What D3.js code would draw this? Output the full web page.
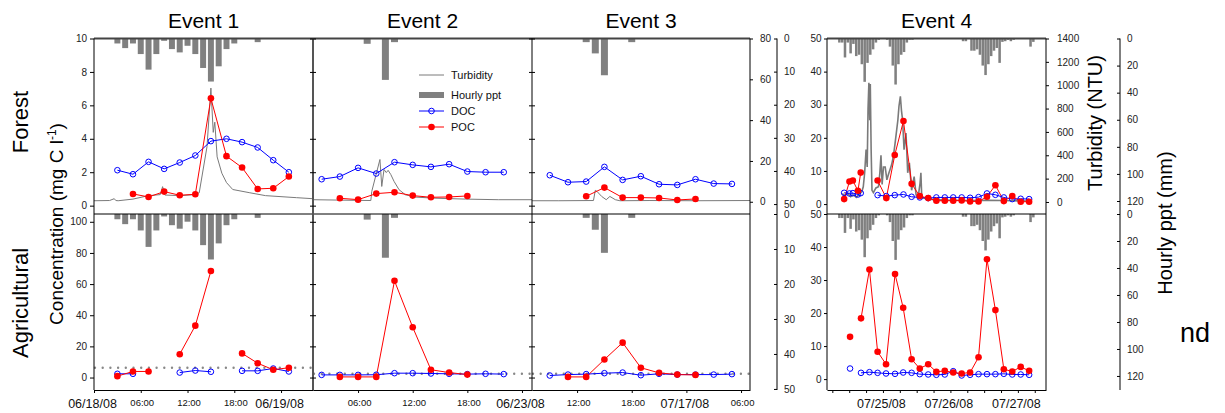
<!DOCTYPE html>
<html>
<head>
<meta charset="utf-8">
<script src="https://cdn.jsdelivr.net/npm/d3@7"></script>
<style>
  body { margin: 0; background: #fff; }
  text { font-family: "Liberation Sans", Arial, sans-serif; }
</style>
</head>
<body>
<svg id="chart" width="1225" height="413"></svg>
<script>
// ---------- data (hours are counted from midnight of the event's first day) ----------
const eventNames = ["Event 1", "Event 2", "Event 3", "Event 4"];
const eventDays = ["2008-06-18", "2008-06-22", "2008-07-16", "2008-07-24"];
const eventSpans = [[0, 28.1], [1.05, 25.1], [7.05, 30.98], [4.1, 82]];
const seriesNames = ["Turbidity", "Hourly ppt", "DOC", "POC"];
const rowNames = ["Forest", "Agricultural"];
const detectionLimit = [6.3, 2.4, 2.4];

// Event 1
const ev1SampleHours = [3, 5, 7, 9, 11, 13, 15, 17, 19, 21, 23, 25];
const ev1ForestDOC = [2.12, 1.88, 2.62, 2.2, 2.58, 3.0, 3.86, 4.0, 3.8, 3.48, 2.72, 2.0];
const ev1ForestPOC = [null, 0.7, 0.52, 0.84, 0.62, 0.68, 6.42, 2.96, 2.28, 1.0, 1.04, 1.74];
const ev1AgDOC = [2.4, 2.4, null, null, 3.2, 4.5, 3.7, null, 4.3, 4.3, 5.8, 3.9];
const ev1AgPOC = [0.9, 3.9, 3.9, null, 15.0, 33.3, 68.4, null, 15.5, 9.2, 5.0, 6.3];
const ev1PptHours = [3, 4, 5, 6, 7, 8, 9, 10, 11, 12, 13, 14, 15, 16, 17, 18, 21];
const ev1Ppt = [1.5, 2.9, 1.5, 4.7, 9.4, 4.7, 0.7, 3.2, 4.2, 2.2, 4.7, 8.9, 13.0, 8.4, 3.2, 1.5, 1.1];
const ev1TurbHours = [0, 2, 2.6, 2.8, 3.1, 5, 7, 8.5, 8.8, 9.1, 11, 13, 13.5, 14.5, 15.0, 15.3, 15.5, 15.8, 16.4, 17, 17.8, 20, 22, 26, 28.1];
const ev1Turb = [0.5, 0.6, 1.5, 0.6, 0.5, 1.3, 3.0, 3.5, 7.4, 3.3, 3.0, 3.5, 4.4, 27, 55.7, 34, 39, 22, 14, 9.4, 6, 4.4, 3, 2, 1.5];

// Event 2
const ev2SampleHours = [2, 4, 6, 8, 10, 12, 14, 16, 18, 20, 22];
const ev2ForestDOC = [1.58, 1.74, 2.26, 1.92, 2.6, 2.44, 2.32, 2.48, 2.04, 2.0, 2.0];
const ev2ForestPOC = [null, 0.44, 0.36, 0.72, 0.80, 0.6, 0.5, 0.52, 0.58, null, null];
const ev2AgDOC = [1.7, 1.7, 1.7, 1.8, 2.8, 2.8, 2.6, 2.4, 2.2, 2.4, 2.2];
const ev2AgPOC = [null, 0.4, 0.4, 0.4, 62.1, 32.3, 5.0, 3.2, 1.9, null, null];
const ev2PptHours = [7, 9, 10];
const ev2Ppt = [1.6, 12.5, 1.1];
const ev2TurbHours = [1.05, 4, 7.4, 7.5, 8.4, 8.6, 8.85, 9.1, 9.3, 9.6, 9.95, 10.5, 11.2, 12.3, 14.1, 17.8, 21.4, 25.1];
const ev2Turb = [1.0, 0.8, 0.6, 5, 20.7, 7.5, 15.8, 14.3, 15.4, 13.3, 10, 5.9, 3.4, 2.3, 1.8, 1.3, 1.0, 1.0];

// Event 3
const ev3SampleHours = [9, 11, 13, 15, 17, 19, 21, 23, 25, 27, 29];
const ev3ForestDOC = [1.82, 1.40, 1.44, 2.32, 1.54, 1.76, 1.28, 1.24, 1.58, 1.32, 1.30];
const ev3ForestPOC = [null, null, 0.56, 1.08, 0.48, 0.48, 0.46, 0.34, 0.40, null, null];
const ev3AgDOC = [1.3, 1.9, 2.2, 2.8, 3.2, 1.5, 2.4, 1.9, 1.9, 1.9, 2.2];
const ev3AgPOC = [null, 0.4, 0.4, 11.6, 22.4, 6.3, 3.0, 1.9, 1.7, null, null];
const ev3PptHours = [13, 14, 15, 18];
const ev3Ppt = [1.1, 4.5, 11.1, 1.1];
const ev3TurbHours = [7.05, 10, 13.8, 14.0, 14.2, 14.7, 15.2, 15.6, 16.2, 16.7, 20, 25, 30.98];
const ev3Turb = [0.5, 0.5, 0.6, 5.6, 5.0, 2.6, 1.0, 2.6, 1.0, 0.5, 0.6, 0.5, 0.6];

// Event 4
const ev4ForestHours = [10.2, 12.1, 13.3, 15.1, 16.1, 19, 22.1, 25.2, 28.2, 31.3, 34.2, 37.1, 40.1, 43, 46, 49, 52, 55, 58, 61, 64, 67, 70, 73, 76];
const ev4ForestDOC = [3.4, 3.2, 3.3, 2.9, 3.3, null, 2.7, 2.4, 2.7, 2.9, 2.2, 2.0, 1.8, 2.0, 2.0, 2.0, 2.0, 1.9, 2.1, 3.2, 2.8, 2.0, 1.5, 1.6, 1.5];
const ev4ForestPOC = [1.5, 6.8, 7.1, 4.0, 9.5, null, 7.1, 1.8, 14.8, 25.1, 6.1, 2.4, 1.8, 1.0, 1.0, 1.0, 1.1, 0.8, 0.8, 2.2, 5.7, 0.9, 2.4, 0.7, 0.7];
const ev4AgHours = [12.3, 14.2, 16.2, 19.2, 22.1, 25.1, 28.3, 31.2, 34.2, 37.1, 40.1, 43, 46, 49, 52, 55, 58, 61, 64, 67, 70, 73, 76];
const ev4AgDOC = [3.2, null, 1.9, 2.1, 1.9, 1.7, 1.6, 2.0, 1.9, 1.5, 1.4, 1.3, 1.4, 2.4, 1.1, 1.3, 1.5, 1.5, 1.5, 1.6, 1.4, 1.4, 1.3];
const ev4AgPOC = [12.8, null, 18.4, 33.2, 8.3, 4.5, 31.8, 21.6, 6.0, 3.2, 4.5, 2.2, 2.5, 2.0, 1.7, 2.0, 6.6, 36.3, 20.9, 3.0, 2.3, 3.7, 2.5];
const ev4PptHours = [8.5, 9.5, 10.5, 11.5, 12.5, 13.5, 14.5, 15.5, 16.5, 17.5, 18.5, 19.5, 20.5, 21.5, 22.5,
  25.5, 26.5, 27.5, 28.5, 29.5, 30.5, 31.5, 32.5, 33.5, 34.5,
  52.5, 53.5, 55.5, 56.5, 57.5, 58.5, 59.5, 60.5, 61.5, 62.5, 63.5, 64.5, 65.5, 66.5, 67.5, 68.5, 69.5, 70.5, 76.5, 77.5];
const ev4Ppt = [3, 3, 14, 3, 11, 4, 13, 12, 19, 32, 18, 12, 8, 3, 1,
  1, 6, 20, 34, 19, 12, 10, 3, 1, 1,
  2, 2, 9, 9, 8, 12, 20, 27, 19, 13, 9, 7, 18, 2.5, 2, 1, 2, 1, 6, 2.5];
const ev4TurbHours = [9.5, 10.5, 11.5, 12.5, 13.5, 14.5, 15.5, 16.5, 17.0, 17.5, 18.0, 18.4, 18.7, 19.0, 19.3, 19.5, 19.8, 20.1,
  20.6, 21.5, 22.4, 22.9, 23.3, 23.7, 24.2, 24.8, 25.4, 26.0, 26.5, 27.1, 27.7, 28.3, 28.9, 29.3, 29.7, 30.2, 30.6, 31.0,
  31.5, 32.2, 32.8, 33.4, 34.2, 35.1, 35.8, 36.5, 37.2, 37.5, 37.8, 39, 42, 48, 55, 62, 70, 77];
const ev4Turb = [70, 55, 75, 45, 60, 40, 65, 90, 130, 250, 450, 300, 800, 1020, 700, 1010, 450, 100,
  80, 120, 130, 250, 400, 150, 300, 300, 190, 240, 275, 320, 390, 500, 620, 700, 820, 905, 780, 700,
  447, 590, 250, 335, 100, 217, 60, 40, 160, 250, 40, 30, 20, 15, 12, 15, 10, 8];

const events = [
  {forestH: ev1SampleHours, forestDOC: ev1ForestDOC, forestPOC: ev1ForestPOC, agH: ev1SampleHours, agDOC: ev1AgDOC, agPOC: ev1AgPOC,
   pptH: ev1PptHours, ppt: ev1Ppt, turbH: ev1TurbHours, turb: ev1Turb},
  {forestH: ev2SampleHours, forestDOC: ev2ForestDOC, forestPOC: ev2ForestPOC, agH: ev2SampleHours, agDOC: ev2AgDOC, agPOC: ev2AgPOC,
   pptH: ev2PptHours, ppt: ev2Ppt, turbH: ev2TurbHours, turb: ev2Turb},
  {forestH: ev3SampleHours, forestDOC: ev3ForestDOC, forestPOC: ev3ForestPOC, agH: ev3SampleHours, agDOC: ev3AgDOC, agPOC: ev3AgPOC,
   pptH: ev3PptHours, ppt: ev3Ppt, turbH: ev3TurbHours, turb: ev3Turb},
  {forestH: ev4ForestHours, forestDOC: ev4ForestDOC, forestPOC: ev4ForestPOC, agH: ev4AgHours, agDOC: ev4AgDOC, agPOC: ev4AgPOC,
   pptH: ev4PptHours, ppt: ev4Ppt, turbH: ev4TurbHours, turb: ev4Turb}
];

// ---------- layout ----------
const svg = d3.select("#chart");
const font = "'Liberation Sans', Arial, sans-serif";
const docColor = "#0000ff", pocColor = "#ff0000", pptColor = "#808080", turbColor = "#7a7a7a";

const panelX = [[94, 313], [313, 532], [532, 750], [827, 1046]];
const yTop = 38.5, yMid = 214, yBot = 390;

// index 0 = events 1-3, index 1 = event 4
const yForest = [d3.scaleLinear().domain([-0.5, 10]).range([yMid, yTop]),
                 d3.scaleLinear().domain([-3, 50]).range([yMid, yTop])];
const yAg = [d3.scaleLinear().domain([-8, 105]).range([yBot, yMid]),
             d3.scaleLinear().domain([-3.3, 50]).range([yBot, yMid])];
const yTurb = [d3.scaleLinear().domain([-6, 80]).range([yMid, yTop]),
               d3.scaleLinear().domain([-103, 1400]).range([yMid, yTop])];
const yPptTop = [d3.scaleLinear().domain([0, 53]).range([yTop, yMid]),
                 d3.scaleLinear().domain([0, 129.6]).range([yTop, yMid])];
const yPptBot = [d3.scaleLinear().domain([0, 50.3]).range([yMid, yBot]),
                 d3.scaleLinear().domain([0, 130.4]).range([yMid, yBot])];

const parseDay = d3.timeParse("%Y-%m-%d");
function at(i, h) { return d3.timeMinute.offset(parseDay(eventDays[i]), Math.round(h * 60)); }
function series(i, hours, vals) { return hours.map((h, k) => ({t: at(i, h), v: vals[k]})); }

const xScales = eventSpans.map((s, i) =>
  d3.scaleTime().domain([at(i, s[0]), at(i, s[1])]).range(panelX[i]));

const plot = svg.append("g");

events.forEach((ev, i) => {
  const x = xScales[i];
  const k = i < 3 ? 0 : 1;
  const barW = i < 3 ? 0.76 : 0.9;
  const g = plot.append("g");

  // precipitation bars hanging from the top of each row
  [yPptTop[k], yPptBot[k]].forEach(yp => {
    g.append("g").selectAll("rect")
      .data(ev.pptH.map((h, j) => ({h, v: ev.ppt[j]})))
      .join("rect")
      .attr("x", d => x(at(i, d.h - barW / 2)))
      .attr("width", d => x(at(i, d.h + barW / 2)) - x(at(i, d.h - barW / 2)))
      .attr("y", yp(0))
      .attr("height", d => yp(d.v) - yp(0))
      .attr("fill", pptColor);
  });

  // turbidity (forest row)
  g.append("path")
    .datum(series(i, ev.turbH, ev.turb))
    .attr("fill", "none")
    .attr("stroke", turbColor)
    .attr("stroke-width", i < 3 ? 1 : 1.6)
    .attr("d", d3.line().x(d => x(d.t)).y(d => yTurb[k](d.v)));

  // detection limit line (agricultural, events 1-3)
  if (i < 3) {
    g.append("line")
      .attr("x1", panelX[i][0] + 1).attr("x2", panelX[i][1])
      .attr("y1", yAg[0](detectionLimit[i])).attr("y2", yAg[0](detectionLimit[i]))
      .attr("stroke", "#888").attr("stroke-width", 2.4)
      .attr("stroke-linecap", "round").attr("stroke-dasharray", "0 7.7");
  }

  const rows = [
    {y: yForest[k], h: ev.forestH, doc: ev.forestDOC, poc: ev.forestPOC},
    {y: yAg[k], h: ev.agH, doc: ev.agDOC, poc: ev.agPOC}
  ];
  rows.forEach(r => {
    const line = d3.line().defined(d => d.v != null).x(d => x(d.t)).y(d => r.y(d.v));
    const doc = series(i, r.h, r.doc), poc = series(i, r.h, r.poc);

    g.append("path").datum(doc).attr("fill", "none").attr("stroke", docColor).attr("stroke-width", 1).attr("d", line);
    g.append("path").datum(poc).attr("fill", "none").attr("stroke", pocColor).attr("stroke-width", 1).attr("d", line);

    g.append("g").selectAll("circle").data(doc.filter(d => d.v != null)).join("circle")
      .attr("cx", d => x(d.t)).attr("cy", d => r.y(d.v)).attr("r", 2.8)
      .attr("fill", "none").attr("stroke", docColor).attr("stroke-width", 1);
    g.append("g").selectAll("circle").data(poc.filter(d => d.v != null)).join("circle")
      .attr("cx", d => x(d.t)).attr("cy", d => r.y(d.v)).attr("r", 3.3)
      .attr("fill", pocColor);
  });
});

// ---------- frames ----------
const frame = svg.append("g").attr("stroke", "#000").attr("fill", "none");
[[94, 750], [827, 1046]].forEach(([a, b]) => {
  frame.append("line").attr("x1", a).attr("x2", b).attr("y1", yTop).attr("y2", yTop).attr("stroke", "#444").attr("stroke-width", 2);
  frame.append("line").attr("x1", a).attr("x2", b).attr("y1", yMid).attr("y2", yMid);
});
[94, 532, 750, 827, 1046].forEach(xv =>
  frame.append("line").attr("x1", xv).attr("x2", xv).attr("y1", yTop).attr("y2", yBot));
frame.append("line").attr("x1", 313).attr("x2", 313).attr("y1", yTop).attr("y2", yBot).attr("stroke", "#555").attr("stroke-width", 2);
[777, 1120].forEach(xv =>
  frame.append("line").attr("x1", xv).attr("x2", xv).attr("y1", yTop).attr("y2", yBot));

// ---------- axes ----------
function tidy(sel, size) {
  sel.select(".domain").remove();
  sel.attr("font-family", font).attr("font-size", size || 10);
  sel.selectAll("text").attr("fill", "#222");
  sel.selectAll("line").attr("stroke", "#000");
}
const forestTicks = [[0, 2, 4, 6, 8, 10], d3.range(0, 51, 10)];
const agTicks = [d3.range(0, 101, 20), d3.range(0, 51, 10)];

// left axes
svg.append("g").attr("transform", "translate(94,0)")
  .call(d3.axisLeft(yForest[0]).tickValues(forestTicks[0]).tickSize(4).tickPadding(3)).call(tidy);
svg.append("g").attr("transform", "translate(94,0)")
  .call(d3.axisLeft(yAg[0]).tickValues(agTicks[0]).tickSize(4).tickPadding(3)).call(tidy);
svg.append("g").attr("transform", "translate(827,0)")
  .call(d3.axisLeft(yForest[1]).tickValues(forestTicks[1]).tickSize(3).tickPadding(2.5)).call(tidy);
svg.append("g").attr("transform", "translate(827,0)")
  .call(d3.axisLeft(yAg[1]).tickValues(agTicks[1]).tickSize(3).tickPadding(2.5)).call(tidy);

// ticks on the inner dividers
[313, 532].forEach(xv => {
  [d3.axisLeft, d3.axisRight].forEach(ax => {
    svg.append("g").attr("transform", `translate(${xv},0)`)
      .call(ax(yForest[0]).tickValues(forestTicks[0]).tickSize(3).tickFormat("")).call(tidy);
    svg.append("g").attr("transform", `translate(${xv},0)`)
      .call(ax(yAg[0]).tickValues(agTicks[0]).tickSize(3).tickFormat("")).call(tidy);
  });
});

// turbidity axes
svg.append("g").attr("transform", "translate(750,0)")
  .call(d3.axisRight(yTurb[0]).tickValues(d3.range(0, 81, 20)).tickSize(3).tickPadding(7)).call(tidy);
svg.append("g").attr("transform", "translate(1046,0)")
  .call(d3.axisRight(yTurb[1]).tickValues(d3.range(0, 1401, 200)).tickFormat(d3.format("d"))
    .tickSize(3).tickPadding(8)).call(tidy);

// hourly precipitation axes (inverted)
[[777, 0, d3.range(0, 51, 10)], [1120, 1, d3.range(0, 121, 20)]].forEach(([xv, k, tv]) => {
  [yPptTop[k], yPptBot[k]].forEach(yp => {
    svg.append("g").attr("transform", `translate(${xv},0)`)
      .call(d3.axisRight(yp).tickValues(tv).tickSizeInner(-3).tickSizeOuter(0).tickPadding(7)).call(tidy);
  });
});

// time axes
const fmtDate = d3.timeFormat("%m/%d/%y"), fmtTime = d3.timeFormat("%H:%M");
xScales.forEach((x, i) => {
  const ax = svg.append("g").attr("transform", `translate(0,${yBot})`)
    .call(d3.axisBottom(x).ticks(d3.timeHour.every(6)).tickSize(3).tickPadding(6).tickSizeOuter(0)
      .tickFormat(d => d.getHours() === 0 ? fmtDate(d) : (i === 3 ? "" : fmtTime(d))));
  ax.attr("font-family", font);
  ax.select(".domain").attr("stroke", "#000");
  ax.selectAll("text").attr("fill", "#111")
    .attr("font-size", d => d.getHours() === 0 ? 12.5 : 9.5)
    .attr("dx", d => d.getHours() === 0 ? -2 : 1);
});

// ---------- titles and labels ----------
const txt = svg.append("g").attr("font-family", font).attr("fill", "#000");
eventNames.forEach((n, i) => {
  txt.append("text").attr("x", (panelX[i][0] + panelX[i][1]) / 2).attr("y", 28)
    .attr("text-anchor", "middle").attr("font-size", 21).text(n);
});
txt.append("text").attr("transform", "translate(28,122) rotate(-90)")
  .attr("text-anchor", "middle").attr("font-size", 22).text(rowNames[0]);
txt.append("text").attr("transform", "translate(28,303) rotate(-90)")
  .attr("text-anchor", "middle").attr("font-size", 22).text(rowNames[1]);

const conc = txt.append("text").attr("transform", "translate(63,224) rotate(-90)")
  .attr("text-anchor", "middle").attr("font-size", 19);
conc.append("tspan").text("Concentration (mg C l");
conc.append("tspan").attr("dy", -7).attr("font-size", 12).text("-1");
conc.append("tspan").attr("dy", 7).text(")");

txt.append("text").attr("transform", "translate(1102,123) rotate(-90)")
  .attr("text-anchor", "middle").attr("font-size", 20).text("Turbidity (NTU)");
txt.append("text").attr("transform", "translate(1172,223) rotate(-90)")
  .attr("text-anchor", "middle").attr("font-size", 20).text("Hourly ppt (mm)");
txt.append("text").attr("x", 1180).attr("y", 342).attr("font-size", 27).text("nd");

// ---------- legend ----------
const lg = svg.append("g").attr("font-family", font).attr("font-size", 11);
const lgX = 419, lgW = 25, lgRows = [75, 95, 111, 127];
lg.append("line").attr("x1", lgX).attr("x2", lgX + lgW).attr("y1", lgRows[0]).attr("y2", lgRows[0])
  .attr("stroke", turbColor).attr("stroke-width", 1);
lg.append("rect").attr("x", lgX).attr("y", lgRows[1] - 3).attr("width", lgW).attr("height", 6).attr("fill", pptColor);
lg.append("line").attr("x1", lgX).attr("x2", lgX + lgW).attr("y1", lgRows[2]).attr("y2", lgRows[2]).attr("stroke", docColor);
lg.append("circle").attr("cx", lgX + lgW / 2).attr("cy", lgRows[2]).attr("r", 2.8)
  .attr("fill", "none").attr("stroke", docColor);
lg.append("line").attr("x1", lgX).attr("x2", lgX + lgW).attr("y1", lgRows[3]).attr("y2", lgRows[3]).attr("stroke", pocColor);
lg.append("circle").attr("cx", lgX + lgW / 2).attr("cy", lgRows[3]).attr("r", 3.3).attr("fill", pocColor);
seriesNames.forEach((n, j) => {
  lg.append("text").attr("x", lgX + 32).attr("y", lgRows[j] + 3.8).attr("fill", "#111").text(n);
});
</script>
</body>
</html>
